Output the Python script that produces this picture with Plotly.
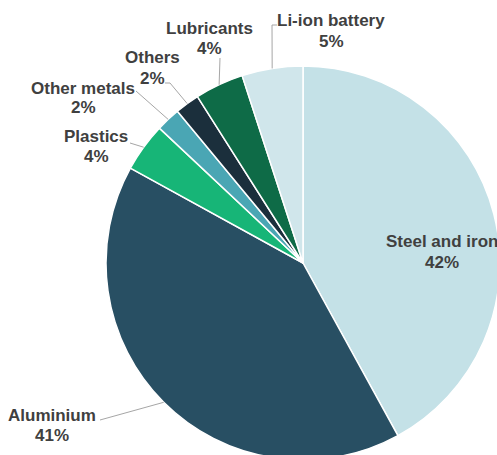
import math
import plotly.graph_objects as go

# Material composition of a vehicle (share of total mass, %)
materials = ["Steel and iron", "Aluminium", "Plastics", "Other metals",
             "Others", "Lubricants", "Li-ion battery"]
shares = [42, 41, 4, 2, 2, 4, 5]
colors = ["#c4e1e7", "#284f63", "#17b577", "#4aa6b4",
          "#1b2f3c", "#0e6b47", "#d0e6eb"]

W, H = 500, 460
# pie placement in pixels (centre and radius)
CX, CY, R = 303, 263, 197
LINE_GAP = 20  # vertical distance between the name line and the percent line

# label block centres and leader-line elbow points (pixels)
label_pos = {
    "Steel and iron": (442, 252),
    "Aluminium": (52, 425),
    "Plastics": (96, 147),
    "Other metals": (83, 98),
    "Others": (152, 68),
    "Lubricants": (209, 39),
    "Li-ion battery": (331, 31),
}
leader_pts = {
    "Aluminium": [(100, 420)],
    "Plastics": [(130, 143)],
    "Other metals": [(136, 91)],
    "Others": [(165, 83), (170, 83)],
    "Lubricants": [(220, 58)],
    "Li-ion battery": [(277, 25), (272, 25)],
}


def px(x, y):
    return x / W, 1 - y / H


fig = go.Figure(go.Pie(
    labels=materials,
    values=shares,
    sort=False,
    direction="clockwise",
    rotation=0,
    marker=dict(colors=colors, line=dict(color="white", width=1.5)),
    textinfo="none",
    hoverinfo="label+percent",
    domain=dict(x=[(CX - R) / W, (CX + R) / W], y=[(H - CY - R) / H, (H - CY + R) / H]),
))

font = dict(family="Liberation Sans, Arial, sans-serif", size=17, color="#404040", weight="bold")

# rim point at each slice's mid-angle (clockwise from 12 o'clock)
total = sum(shares)
cum = 0
rim = {}
for name, v in zip(materials, shares):
    mid = (cum + v / 2) / total * 2 * math.pi
    rim[name] = (CX + R * math.sin(mid), CY - R * math.cos(mid))
    cum += v

annotations = []
shapes = []
for name, v in zip(materials, shares):
    lx, ly = label_pos[name]
    for text, dy in ((name, -LINE_GAP / 2), (f"{v}%", LINE_GAP / 2)):
        x, y = px(lx, ly + dy)
        annotations.append(dict(
            text=text, x=x, y=y, xref="paper", yref="paper",
            xanchor="center", yanchor="middle", showarrow=False, font=font,
        ))
    if name in leader_pts:
        pts = leader_pts[name] + [rim[name]]
        for (x0, y0), (x1, y1) in zip(pts[:-1], pts[1:]):
            a0, b0 = px(x0, y0)
            a1, b1 = px(x1, y1)
            shapes.append(dict(type="line", xref="paper", yref="paper",
                               x0=a0, y0=b0, x1=a1, y1=b1,
                               line=dict(color="#a6a6a6", width=1)))

fig.update_layout(
    width=W, height=H,
    margin=dict(l=0, r=0, t=0, b=0),
    showlegend=False,
    paper_bgcolor="white",
    plot_bgcolor="white",
    annotations=annotations,
    shapes=shapes,
)

fig.write_html("out.html")
